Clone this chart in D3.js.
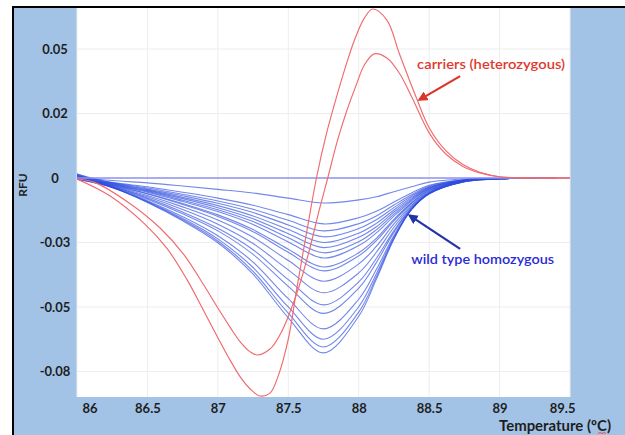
<!DOCTYPE html>
<html>
<head>
<meta charset="utf-8">
<script src="https://cdn.jsdelivr.net/npm/d3@7"></script>
<style>
body { margin: 0; background: #fff; }
text { font-family: Lato, "Open Sans", sans-serif; }
</style>
</head>
<body>
<svg id="chart" width="625" height="435"></svg>
<script>
// temperatures (degC) where the wild type traces were read
var temps = [86, 86.25, 86.5, 86.75, 87, 87.25, 87.5, 87.75, 88, 88.125, 88.25, 88.375, 88.5, 88.75, 89, 89.4];
// wild type homozygous traces (RFU), shallowest to deepest
var wt01 = [0.0005,-0.0010,-0.0019,-0.0031,-0.0044,-0.0058,-0.0078,-0.0097,-0.0085,-0.0073,-0.0053,-0.0034,-0.0016,-0.0004,-0.0001,0];
var wt02 = [0.0010,-0.0017,-0.0034,-0.0055,-0.0078,-0.0106,-0.0142,-0.0178,-0.0154,-0.0129,-0.0093,-0.0058,-0.0028,-0.0007,-0.0002,0];
var wt03 = [0.0000,-0.0019,-0.0039,-0.0063,-0.0089,-0.0121,-0.0164,-0.0205,-0.0177,-0.0147,-0.0105,-0.0065,-0.0032,-0.0007,-0.0002,0];
var wt04 = [0.0015,-0.0020,-0.0043,-0.0069,-0.0098,-0.0134,-0.0182,-0.0228,-0.0196,-0.0162,-0.0115,-0.0071,-0.0035,-0.0008,-0.0002,0];
var wt05 = [-0.0005,-0.0022,-0.0046,-0.0075,-0.0107,-0.0147,-0.0200,-0.0250,-0.0214,-0.0176,-0.0124,-0.0076,-0.0037,-0.0009,-0.0002,0];
var wt06 = [0.0010,-0.0023,-0.0049,-0.0080,-0.0115,-0.0158,-0.0216,-0.0270,-0.0230,-0.0189,-0.0132,-0.0081,-0.0039,-0.0009,-0.0002,0];
var wt07 = [0.0000,-0.0025,-0.0052,-0.0086,-0.0123,-0.0169,-0.0232,-0.0290,-0.0247,-0.0201,-0.0140,-0.0085,-0.0042,-0.0010,-0.0002,0];
var wt08 = [0.0005,-0.0026,-0.0055,-0.0091,-0.0130,-0.0180,-0.0248,-0.0310,-0.0262,-0.0213,-0.0148,-0.0089,-0.0043,-0.0010,-0.0003,0];
var wt09 = [-0.0005,-0.0028,-0.0060,-0.0099,-0.0143,-0.0200,-0.0276,-0.0345,-0.0290,-0.0234,-0.0160,-0.0096,-0.0047,-0.0011,-0.0003,0];
var wt10 = [0.0010,-0.0029,-0.0062,-0.0103,-0.0149,-0.0208,-0.0288,-0.0360,-0.0302,-0.0243,-0.0166,-0.0099,-0.0048,-0.0011,-0.0003,0];
var wt11 = [0.0000,-0.0031,-0.0068,-0.0112,-0.0163,-0.0230,-0.0320,-0.0400,-0.0333,-0.0265,-0.0178,-0.0105,-0.0051,-0.0012,-0.0003,0];
var wt12 = [0.0015,-0.0032,-0.0073,-0.0122,-0.0179,-0.0254,-0.0356,-0.0445,-0.0368,-0.0288,-0.0191,-0.0110,-0.0054,-0.0012,-0.0003,0];
var wt13 = [-0.0005,-0.0034,-0.0078,-0.0132,-0.0195,-0.0278,-0.0394,-0.0492,-0.0403,-0.0312,-0.0204,-0.0115,-0.0057,-0.0013,-0.0003,0];
var wt14 = [0.0005,-0.0035,-0.0082,-0.0139,-0.0205,-0.0296,-0.0420,-0.0525,-0.0427,-0.0328,-0.0211,-0.0118,-0.0058,-0.0013,-0.0003,0];
var wt15 = [0.0000,-0.0036,-0.0088,-0.0150,-0.0224,-0.0326,-0.0468,-0.0585,-0.0470,-0.0355,-0.0223,-0.0121,-0.0060,-0.0013,-0.0003,0];
var wt16 = [0.0010,-0.0037,-0.0091,-0.0157,-0.0236,-0.0347,-0.0500,-0.0625,-0.0499,-0.0372,-0.0230,-0.0122,-0.0061,-0.0014,-0.0003,0];
var wt17 = [-0.0005,-0.0037,-0.0093,-0.0162,-0.0244,-0.0362,-0.0524,-0.0655,-0.0520,-0.0384,-0.0234,-0.0122,-0.0061,-0.0014,-0.0003,0];
var wt18 = [0.0000,-0.0037,-0.0095,-0.0166,-0.0251,-0.0373,-0.0542,-0.0678,-0.0536,-0.0393,-0.0237,-0.0122,-0.0061,-0.0014,-0.0003,0];
var wildType = [wt01, wt02, wt03, wt04, wt05, wt06, wt07, wt08, wt09, wt10, wt11, wt12, wt13, wt14, wt15, wt16, wt17, wt18];

// the flat trace (no signal)
var flatTemps = [86, 89.5];
var flatValues = [0, 0];

// carriers (heterozygous), two traces
var carrierT1 = [86.00,86.23,86.48,86.64,86.78,86.89,87.00,87.09,87.16,87.23,87.30,87.37,87.43,87.50,87.56,87.63,87.70,87.77,87.83,87.90,87.97,88.04,88.10,88.20,88.29,88.41,88.50,88.62,88.74,88.86,89.01,89.25,89.50];
var carrierV1 = [-0.0004,-0.0068,-0.0178,-0.0274,-0.0393,-0.0505,-0.0619,-0.0709,-0.0772,-0.0818,-0.0845,-0.0834,-0.0765,-0.0625,-0.0430,-0.0212,0,0.0170,0.0290,0.0420,0.0535,0.0620,0.0655,0.0612,0.0480,0.0310,0.0195,0.0105,0.0052,0.0022,0.0004,0,0];
var carrierT2 = [86.00,86.12,86.36,86.59,86.76,86.90,87.00,87.09,87.16,87.23,87.28,87.37,87.44,87.51,87.58,87.65,87.72,87.78,87.85,87.91,87.98,88.04,88.11,88.20,88.29,88.38,88.50,88.62,88.74,88.86,89.01,89.25,89.50];
var carrierV2 = [-0.0004,-0.0016,-0.0093,-0.0194,-0.0298,-0.0415,-0.0504,-0.0581,-0.0636,-0.0674,-0.0686,-0.0663,-0.0609,-0.0523,-0.0415,-0.0279,-0.0124,0,0.0147,0.0252,0.0357,0.0438,0.0481,0.0465,0.0405,0.0310,0.0175,0.0092,0.0045,0.0020,0.0004,0,0];

// ticks
var xTicks = [86, 86.5, 87, 87.5, 88, 88.5, 89, 89.5];
var xTickLabels = ["86", "86.5", "87", "87.5", "88", "88.5", "89", "89.5"];
var yTicks = [0.05, 0.025, 0, -0.025, -0.05, -0.075];
var yTickLabels = ["0.05", "0.02", "0", "-0.03", "-0.05", "-0.08"];

var margin = {top: 8, right: 55, bottom: 38, left: 77};
var width = 625 - margin.left - margin.right;
var height = 435 - margin.top - margin.bottom;

var svg = d3.select("#chart");

// blue frame and black border
svg.append("rect").attr("x", 14).attr("y", 8).attr("width", 611).attr("height", 427).attr("fill", "#a2c3e6");
svg.append("line").attr("x1", 12).attr("x2", 625).attr("y1", 7).attr("y2", 7).attr("stroke", "#000").attr("stroke-width", 2);
svg.append("line").attr("x1", 13).attr("x2", 13).attr("y1", 6).attr("y2", 435).attr("stroke", "#000").attr("stroke-width", 2);

var g = svg.append("g").attr("transform", "translate(" + margin.left + "," + margin.top + ")");
g.append("rect").attr("width", width).attr("height", height).attr("fill", "#fff");

var x = d3.scaleLinear().domain([86, 89.5]).range([0, width]);
var y = d3.scaleLinear().domain([-0.0849, 0.0659]).range([height, 0]);

svg.append("defs").append("clipPath").attr("id", "plot")
  .append("rect").attr("width", width).attr("height", height);

// grid
g.append("g").selectAll("line").data(xTicks).enter().append("line")
  .attr("x1", function(d) { return x(d); }).attr("x2", function(d) { return x(d); })
  .attr("y1", 0).attr("y2", height).attr("stroke", "#ededed");
g.append("g").selectAll("line").data(yTicks).enter().append("line")
  .attr("y1", function(d) { return y(d); }).attr("y2", function(d) { return y(d); })
  .attr("x1", 0).attr("x2", width).attr("stroke", "#ededed");

// axes
var xAxis = d3.axisBottom(x).tickValues(xTicks)
  .tickFormat(function(d, i) { return xTickLabels[i]; }).tickSize(0).tickPadding(7);
var gx = g.append("g").attr("transform", "translate(0," + height + ")").call(xAxis);
gx.select(".domain").remove();
gx.selectAll("text").attr("font-size", 13).attr("font-weight", "bold").attr("fill", "#1e1e1e")
  .style("font-family", "Lato, sans-serif")
  .attr("text-anchor", function(d, i) { return i == 0 ? "start" : (i == xTicks.length - 1 ? "end" : "middle"); })
  .attr("dx", function(d, i) { return i == 0 ? 5 : (i == xTicks.length - 1 ? 5 : 0); });

var yAxis = d3.axisLeft(y).tickValues(yTicks)
  .tickFormat(function(d, i) { return yTickLabels[i]; }).tickSize(0);
var gy = g.append("g").call(yAxis);
gy.select(".domain").remove();
gy.selectAll("text").attr("font-size", 13).attr("font-weight", "bold").attr("fill", "#1e1e1e")
  .style("font-family", "Lato, sans-serif")
  .attr("text-anchor", "middle").attr("x", -22);

// traces
var line = d3.line()
  .x(function(d) { return x(d[0]); })
  .y(function(d) { return y(d[1]); })
  .curve(d3.curveCatmullRom.alpha(0.5));

var traces = g.append("g").attr("clip-path", "url(#plot)");

traces.selectAll(".wt").data(wildType).enter().append("path")
  .attr("class", "wt")
  .attr("d", function(vals) { return line(vals.map(function(v, i) { return [temps[i], v]; })); })
  .attr("fill", "none").attr("stroke", "#2f4ee0").attr("stroke-opacity", 0.68).attr("stroke-width", 1.1);

traces.append("path")
  .attr("d", line(flatValues.map(function(v, i) { return [flatTemps[i], v]; })))
  .attr("fill", "none").attr("stroke", "#8f93f0").attr("stroke-width", 1.6);

var carriers = [[carrierT1, carrierV1], [carrierT2, carrierV2]];
traces.selectAll(".carrier").data(carriers).enter().append("path")
  .attr("class", "carrier")
  .attr("d", function(c) { return line(c[0].map(function(t, i) { return [t, c[1][i]]; })); })
  .attr("fill", "none").attr("stroke", "#f06a6e").attr("stroke-width", 1.15);

// arrow heads
var defs = svg.select("defs");
[["ah-red", "#dc3428"], ["ah-blue", "#2233a6"]].forEach(function(m) {
  defs.append("marker").attr("id", m[0]).attr("viewBox", "0 0 10 10")
    .attr("refX", 8).attr("refY", 5).attr("markerWidth", 4.5).attr("markerHeight", 4.5)
    .attr("orient", "auto")
    .append("path").attr("d", "M0,0L10,5L0,10z").attr("fill", m[1]);
});

// annotations
g.append("line")
  .attr("x1", x(88.72)).attr("y1", y(0.0395)).attr("x2", x(88.43)).attr("y2", y(0.0303))
  .attr("stroke", "#dc3428").attr("stroke-width", 2.2).attr("marker-end", "url(#ah-red)");
g.append("text").attr("x", x(88.94)).attr("y", y(0.0423))
  .attr("text-anchor", "middle").attr("font-size", 14).attr("font-weight", 600)
  .attr("fill", "#e0392e").attr("textLength", 148).attr("lengthAdjust", "spacingAndGlyphs")
  .text("carriers (heterozygous)");

g.append("line")
  .attr("x1", x(88.72)).attr("y1", y(-0.0275)).attr("x2", x(88.36)).attr("y2", y(-0.0145))
  .attr("stroke", "#2233a6").attr("stroke-width", 2.2).attr("marker-end", "url(#ah-blue)");
g.append("text").attr("x", x(88.88)).attr("y", y(-0.0333))
  .attr("text-anchor", "middle").attr("font-size", 14).attr("font-weight", 600)
  .attr("fill", "#2b2bd6").attr("textLength", 143).attr("lengthAdjust", "spacingAndGlyphs")
  .text("wild type homozygous");

// axis titles
svg.append("text").attr("transform", "translate(27,185) rotate(-90)")
  .attr("text-anchor", "middle").attr("font-size", 12).attr("font-weight", "bold").attr("fill", "#1e1e1e")
  .text("RFU");
svg.append("text").attr("x", 611).attr("y", 431)
  .attr("text-anchor", "end").attr("font-size", 15).attr("font-weight", "bold").attr("fill", "#1e1e1e")
  .attr("textLength", 112).attr("lengthAdjust", "spacingAndGlyphs")
  .text("Temperature (ºC)");
// little spell-check squiggle under the C
svg.append("path").attr("d", "M598,433.5l2,-1l2,1l2,-1l2,1").attr("fill", "none")
  .attr("stroke", "#e33").attr("stroke-width", 0.8);
</script>
</body>
</html>
